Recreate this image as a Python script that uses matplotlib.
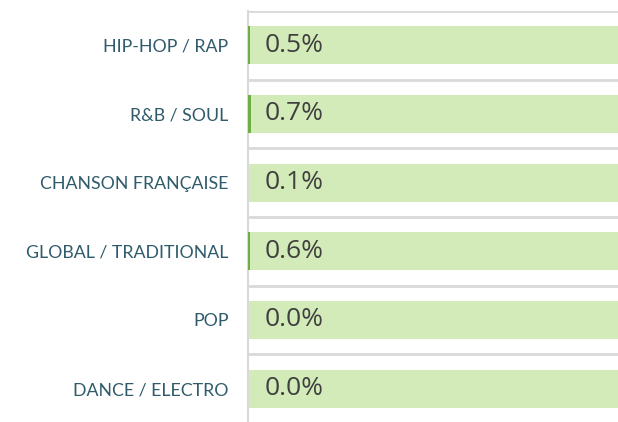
import numpy as np
import matplotlib.pyplot as plt

genres = ["HIP-HOP / RAP", "R&B / SOUL", "CHANSON FRANÇAISE",
          "GLOBAL / TRADITIONAL", "POP", "DANCE / ELECTRO"]
values = [0.5, 0.7, 0.1, 0.6, 0.0, 0.0]
labels = ["0.5%", "0.7%", "0.1%", "0.6%", "0.0%", "0.0%"]
full = [100] * len(genres)

fig = plt.figure(figsize=(6.18, 4.22), dpi=100)
ax = fig.add_axes([248 / 618, -1 / 422, 1 - 248 / 618, 412 / 422])

y = np.arange(len(genres))
ax.barh(y, full, height=0.55, color="#D3EBB8", zorder=2)
ax.barh(y, values, height=0.55, color="#70AD47", zorder=3)

for yi, lab in zip(y, labels):
    ax.annotate(lab, (0, yi), xytext=(12, 0), textcoords="offset points",
                ha="left", va="center", fontsize=19, color="#404040",
                family="Open Sans", zorder=4)

ax.set_xlim(0, 100)
ax.set_ylim(len(genres) - 0.5, -0.5)
ax.set_yticks(y)
ax.set_yticklabels(genres, fontsize=12.8, color="#2F5B6B", family="Lato")
ax.set_yticks(np.arange(len(genres) + 1) - 0.5, minor=True)
ax.tick_params(axis="y", which="both", length=0, pad=14)
ax.set_xticks([])
ax.grid(axis="y", which="minor", color="#D9D9D9", linewidth=2, zorder=1)

for s in ["top", "right", "bottom"]:
    ax.spines[s].set_visible(False)
ax.spines["left"].set_color("#D9D9D9")
ax.spines["left"].set_linewidth(1.5)

fig.savefig("out.png", dpi=100)
